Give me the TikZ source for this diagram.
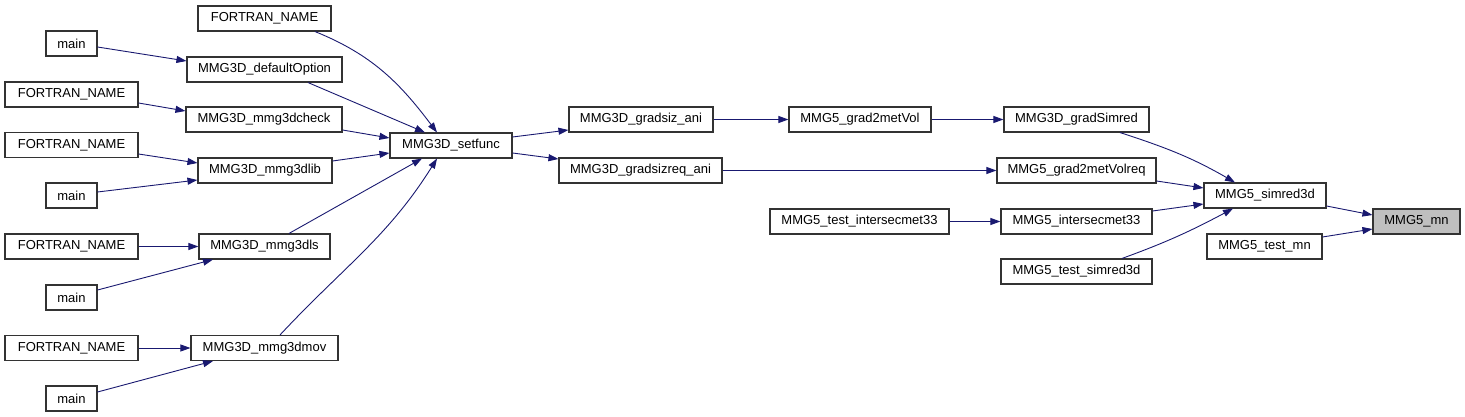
\documentclass[tikz,border=0pt]{standalone}
\usepackage{fontspec}
\setmainfont{Liberation Sans}
\usetikzlibrary{arrows.meta}
\definecolor{edgeblue}{HTML}{191970}
\definecolor{boxline}{HTML}{333333}
\definecolor{hlgray}{HTML}{BFBFBF}
\begin{document}
\begin{tikzpicture}[x=1pt,y=-1pt,
  fn/.style={draw=boxline,line width=1.1pt,fill=white,minimum height=25pt,inner sep=0pt,
    font=\fontsize{13pt}{15pt}\selectfont,text=black},
  hl/.style={fn,fill=hlgray},
  call/.style={draw=edgeblue,line width=0.9pt,-{Triangle[length=10pt,width=7pt]}}]
\useasboundingbox (0,0) rectangle (1465,417);
% nodes
\node[fn,minimum width=133pt] (fn1) at (264.5,18.5) {FORTRAN\_NAME};
\node[fn,minimum width=51pt]  (m1)  at (71.5,43.5) {main};
\node[fn,minimum width=155pt] (defopt) at (264.5,69.5) {MMG3D\_defaultOption};
\node[fn,minimum width=133pt] (fn2) at (71.5,94.5) {FORTRAN\_NAME};
\node[fn,minimum width=156pt] (check) at (264,119.5) {MMG3D\_mmg3dcheck};
\node[fn,minimum width=122pt] (setfunc) at (451,145.5) {MMG3D\_setfunc};
\node[fn,minimum width=133pt] (fn3) at (71.5,145) {FORTRAN\_NAME};
\node[fn,minimum width=134pt] (lib) at (265,170.5) {MMG3D\_mmg3dlib};
\node[fn,minimum width=51pt]  (m2)  at (71.5,195.5) {main};
\node[fn,minimum width=133pt] (fn4) at (71.5,246.5) {FORTRAN\_NAME};
\node[fn,minimum width=131pt] (dls) at (264.5,246.5) {MMG3D\_mmg3dls};
\node[fn,minimum width=51pt]  (m3)  at (71.5,297.5) {main};
\node[fn,minimum width=133pt] (fn5) at (71.5,348) {FORTRAN\_NAME};
\node[fn,minimum width=147pt] (dmov) at (264.5,348) {MMG3D\_mmg3dmov};
\node[fn,minimum width=51pt]  (m4)  at (71.5,398.5) {main};
\node[fn,minimum width=144pt] (gsiz) at (641,119.5) {MMG3D\_gradsiz\_ani};
\node[fn,minimum width=142pt] (g2mv) at (860,119.5) {MMG5\_grad2metVol};
\node[fn,minimum width=163pt] (gsizreq) at (640.5,170.5) {MMG3D\_gradsizreq\_ani};
\node[fn,minimum width=179pt] (tim33) at (859.5,221.5) {MMG5\_test\_intersecmet33};
\node[fn,minimum width=145pt] (gsimred) at (1076.5,119.5) {MMG3D\_gradSimred};
\node[fn,minimum width=159pt] (g2mvreq) at (1076.5,170.5) {MMG5\_grad2metVolreq};
\node[fn,minimum width=122pt] (simred) at (1265,195.5) {MMG5\_simred3d};
\node[hl,minimum width=87pt]  (mn) at (1416.5,221.5) {MMG5\_mn};
\node[fn,minimum width=151pt] (im33) at (1076.5,221.5) {MMG5\_intersecmet33};
\node[fn,minimum width=115pt] (tmn) at (1264.5,246.5) {MMG5\_test\_mn};
\node[fn,minimum width=151pt] (tsim) at (1076.5,271.5) {MMG5\_test\_simred3d};
% edges
\draw[call] ([xshift=50.5pt]fn1.south) to[out=-22,in=127] ([xshift=-14pt]setfunc.north);
\draw[call] ([yshift=-3.5pt]m1.east) -- ([yshift=8.5pt]defopt.west);
\draw[call] ([xshift=43.5pt]defopt.south) -- ([xshift=-26pt]setfunc.north);
\draw[call] ([yshift=-8.5pt]fn2.east) -- ([yshift=8.5pt]check.west);
\draw[call] ([yshift=-10.5pt]check.east) -- ([yshift=7.5pt]setfunc.west);
\draw[call] ([yshift=-9pt]fn3.east) -- ([yshift=7.5pt]lib.west);
\draw[call] ([yshift=3.5pt]m2.east) -- ([yshift=-9.5pt]lib.west);
\draw[call] ([yshift=9.5pt]lib.east) -- ([yshift=-7.5pt]setfunc.west);
\draw[call] ([xshift=24.5pt]dls.north) -- ([xshift=-29pt]setfunc.south);
\draw[call] (fn4.east) -- (dls.west);
\draw[call] ([yshift=7.5pt]m3.east) -- ([xshift=-51.5pt]dls.south);
\draw[call] ([xshift=15.5pt]dmov.north) to[out=47,in=-122] ([xshift=-14pt]setfunc.south);
\draw[call] (fn5.east) -- (dmov.west);
\draw[call] ([yshift=6.5pt]m4.east) -- ([xshift=-51.5pt]dmov.south);
\draw[call] ([yshift=8.5pt]setfunc.east) -- ([yshift=-10.5pt]gsiz.west);
\draw[call] ([yshift=-7.5pt]setfunc.east) -- ([yshift=11.5pt]gsizreq.west);
\draw[call] (gsiz.east) -- (g2mv.west);
\draw[call] (g2mv.east) -- (gsimred.west);
\draw[call] (gsizreq.east) -- (g2mvreq.west);
\draw[call] (tim33.east) -- (im33.west);
\draw[call] ([xshift=43.5pt]gsimred.south) to[out=-18,in=150] ([xshift=-30pt]simred.north);
\draw[call] ([yshift=-10.5pt]g2mvreq.east) -- ([yshift=7.5pt]simred.west);
\draw[call] ([yshift=10.5pt]im33.east) -- ([yshift=-8.5pt]simred.west);
\draw[call] ([xshift=45.5pt]tsim.north) to[out=20,in=-152] ([xshift=-32pt]simred.south);
\draw[call] ([yshift=-10.5pt]simred.east) -- ([yshift=6.5pt]mn.west);
\draw[call] ([yshift=9.5pt]tmn.east) -- ([yshift=-7.5pt]mn.west);
\end{tikzpicture}
\end{document}
